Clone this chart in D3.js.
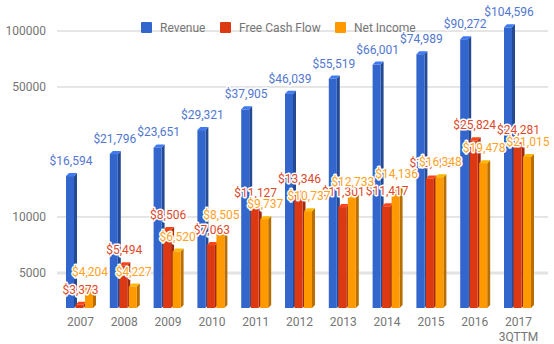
<!DOCTYPE html>
<html>
<head>
<meta charset="utf-8">
<script src="https://cdn.jsdelivr.net/npm/d3@7"></script>
<style>
  body { margin: 0; background: #fff; }
  text { font-family: Roboto, "Noto Sans", sans-serif; }
</style>
</head>
<body>
<div id="chart"></div>
<script>
var years = ["2007", "2008", "2009", "2010", "2011", "2012", "2013", "2014", "2015", "2016", "2017"];
var subLabels = ["", "", "", "", "", "", "", "", "", "", "3QTTM"];
var seriesNames = ["Revenue", "Free Cash Flow", "Net Income"];
var revenue = [16594, 21796, 23651, 29321, 37905, 46039, 55519, 66001, 74989, 90272, 104596];
var freeCashFlow = [3373, 5494, 8506, 7063, 11127, 13346, 11301, 11417, 16109, 25824, 24281];
var netIncome = [4204, 4227, 6520, 8505, 9737, 10737, 12733, 14136, 16348, 19478, 21015];
var yTicks = [5000, 10000, 50000, 100000];

var allSeries = [revenue, freeCashFlow, netIncome];
var colors = ["#3366cc", "#dc3912", "#ff9900"];
var labelColors = ["#5277cf", "#dd4a2c", "#ffa21f"];

var width = 554, height = 344;
var barW = 8, barGap = 9.5, depth = 3;

var svg = d3.select("#chart").append("svg")
  .attr("width", width)
  .attr("height", height);

var x = d3.scaleBand()
  .domain(years)
  .range([58.6, 540.4])
  .padding(0);

var y = d3.scaleLog()
  .domain([3240, 100000])
  .range([308, 31]);

// gridlines + y labels
svg.selectAll(".grid")
  .data(yTicks)
  .enter()
  .append("line")
  .attr("x1", 57)
  .attr("x2", 548)
  .attr("y1", d => y(d))
  .attr("y2", d => y(d))
  .attr("stroke", d => d == 5000 ? "#e3e3e3" : "#cccccc")
  .attr("stroke-width", d => d == 5000 ? 3 : 1);

svg.selectAll(".ylab")
  .data(yTicks)
  .enter()
  .append("text")
  .attr("x", 46)
  .attr("y", d => y(d) + 4)
  .attr("text-anchor", "end")
  .attr("font-size", 12)
  .attr("fill", "#757575")
  .text(d => d);

// legend
var legendX = [141, 220, 335];
var legend = svg.selectAll(".legend")
  .data(seriesNames)
  .enter()
  .append("g")
  .attr("transform", (d, i) => "translate(" + legendX[i] + ",22)");
legend.append("rect")
  .attr("width", 11)
  .attr("height", 11)
  .attr("rx", 1)
  .attr("fill", (d, i) => colors[i]);
legend.append("text")
  .attr("x", 19)
  .attr("y", 10)
  .attr("font-size", 12)
  .attr("fill", "#757575")
  .text(d => d);

// bars
function barLeft(year, i) {
  return x(year) + x.bandwidth() / 2 - 14.5 + i * barGap;
}
var bottom = y.range()[0];

years.forEach(function (year, j) {
  allSeries.forEach(function (vals, i) {
    var bx = barLeft(year, i);
    var top = y(vals[j]);
    var c = d3.color(colors[i]);
    var g = svg.append("g");
    // side
    g.append("polygon")
      .attr("points", [[bx + barW, top], [bx + barW + depth, top - depth], [bx + barW + depth, bottom - depth], [bx + barW, bottom]].join(" "))
      .attr("fill", c.darker(0.9));
    // top
    g.append("polygon")
      .attr("points", [[bx, top], [bx + barW, top], [bx + barW + depth, top - depth], [bx + depth, top - depth]].join(" "))
      .attr("fill", c.brighter(0.5));
    // front
    g.append("rect")
      .attr("x", bx)
      .attr("y", top)
      .attr("width", barW)
      .attr("height", bottom - top)
      .attr("fill", colors[i]);
  });
});

// value labels
allSeries.forEach(function (vals, i) {
  svg.selectAll(".val" + i)
    .data(vals)
    .enter()
    .append("text")
    .attr("x", (d, j) => barLeft(years[j], i) + barW / 2 + 1)
    .attr("y", d => y(d) - 11)
    .attr("text-anchor", "middle")
    .attr("font-size", 12)
    .attr("fill", labelColors[i])
    .attr("stroke", "#fff")
    .attr("stroke-width", 3)
    .attr("stroke-linejoin", "round")
    .attr("paint-order", "stroke")
    .text(d => "$" + d3.format(",")(d));
});

// x labels
var xl = svg.selectAll(".xlab")
  .data(years)
  .enter()
  .append("text")
  .attr("x", d => x(d) + x.bandwidth() / 2)
  .attr("y", 326)
  .attr("text-anchor", "middle")
  .attr("font-size", 12)
  .attr("fill", "#757575");
xl.append("tspan").text(d => d);
xl.append("tspan")
  .attr("x", d => x(d) + x.bandwidth() / 2)
  .attr("dy", 15)
  .text((d, i) => subLabels[i]);
</script>
</body>
</html>
